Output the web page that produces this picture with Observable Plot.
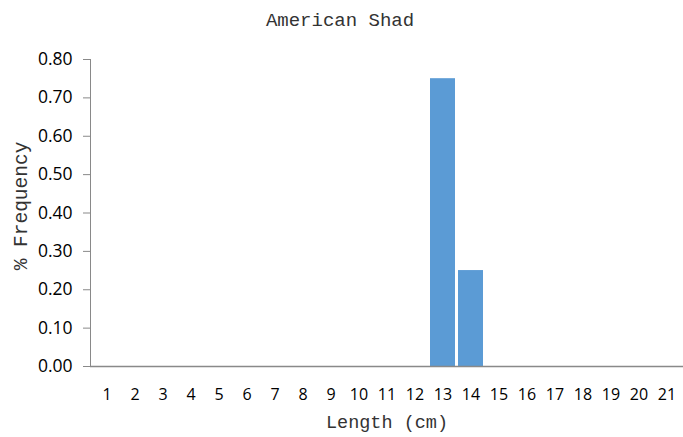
<!DOCTYPE html>
<html><head><meta charset="utf-8">
<script src="https://cdn.jsdelivr.net/npm/d3@7"></script>
<script src="https://cdn.jsdelivr.net/npm/@observablehq/plot@0.6"></script>
<style>body{margin:0;background:#fff}</style>
</head><body><div id="chart"></div>
<script>
const title = "American Shad";
const xLabel = "Length (cm)";
const yLabel = "% Frequency";
const lengths = [1,2,3,4,5,6,7,8,9,10,11,12,13,14,15,16,17,18,19,20,21];
const freq =    [0,0,0,0,0,0,0,0,0,0,0,0,0.75,0.25,0,0,0,0,0,0,0];
const yTicks = [0,0.1,0.2,0.3,0.4,0.5,0.6,0.7,0.8];

const data = lengths.map((l,i)=>({len:l, f:freq[i]}));
const gray = "#898989";
const tickFont = "'Open Sans', sans-serif";
const mono = "'Liberation Mono', 'Courier New', monospace";

const chart = Plot.plot({
  width: 683, height: 437,
  marginTop: 59, marginBottom: 71, marginLeft: 90, marginRight: 0,
  style: {background: "#fff", fontSize: "16px", fontFamily: tickFont, color: "#000"},
  x: {type: "band", domain: lengths, padding: 0.1, paddingOuter: 0.05, axis: null},
  y: {domain: [0, 0.8], axis: null},
  marks: [
    Plot.barY(data, {x: "len", y: "f", fill: "#5B9BD5"}),
    Plot.ruleY([0], {stroke: gray, strokeWidth: 1.5}),
    Plot.frame({anchor: "left", stroke: gray}),
    Plot.axisY({ticks: yTicks, tickFormat: ".2f", tickSize: 7, stroke: gray, tickPadding: 11, fill: "#000", fontSize: 17.5, label: null, anchor:"left"}),
    Plot.axisX({ticks: lengths, tickSize: 0, tickPadding: 22, fill: "#000", fontSize: 16, label: null}),
    Plot.text([title], {frameAnchor: "top", dx: -47, dy: -47, fontFamily: mono, fontSize: 19, fill: "#333"}),
    Plot.text([xLabel], {frameAnchor: "bottom", dy: 61, fontFamily: mono, fontSize: 18.5, fill: "#333"}),
    Plot.text([yLabel], {frameAnchor: "left", textAnchor: "middle", dx: -70, dy: -7, rotate: -90, fontFamily: mono, fontSize: 19.5, fill: "#333"})
  ]
});
document.getElementById("chart").append(chart);
</script></body></html>
